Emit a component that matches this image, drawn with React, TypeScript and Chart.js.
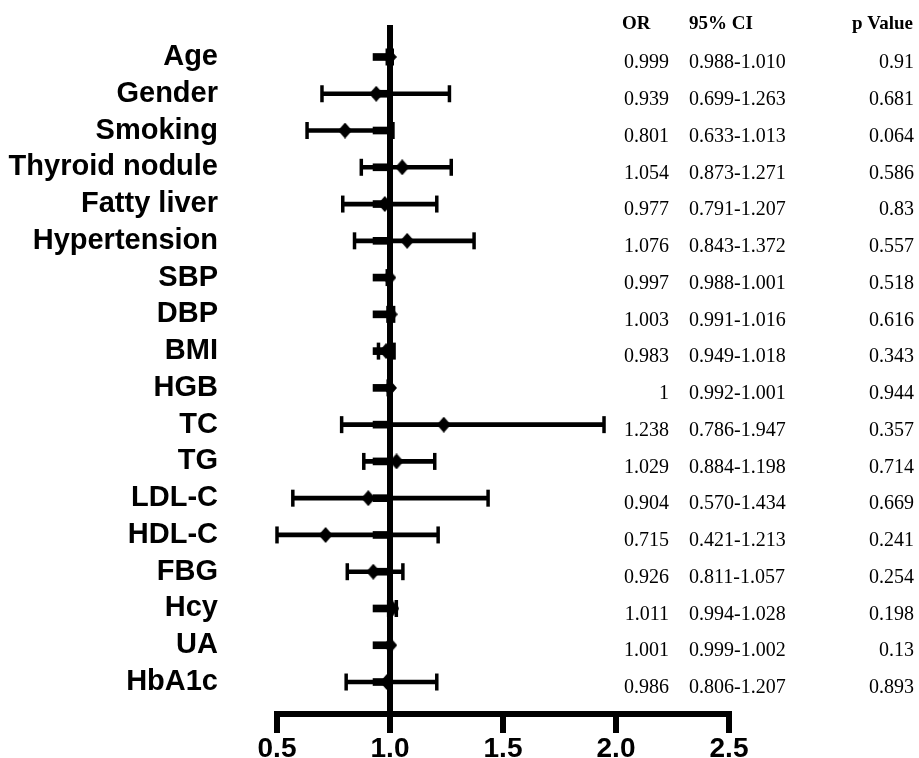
import React, { useEffect, useRef } from 'react';
import { Chart, registerables } from 'chart.js';

Chart.register(...registerables);

const variables = ['Age', 'Gender', 'Smoking', 'Thyroid nodule', 'Fatty liver', 'Hypertension', 'SBP', 'DBP', 'BMI', 'HGB', 'TC', 'TG', 'LDL-C', 'HDL-C', 'FBG', 'Hcy', 'UA', 'HbA1c'];
const orValues = [0.999, 0.939, 0.801, 1.054, 0.977, 1.076, 0.997, 1.003, 0.983, 1, 1.238, 1.029, 0.904, 0.715, 0.926, 1.011, 1.001, 0.986];
const ciLower = [0.988, 0.699, 0.633, 0.873, 0.791, 0.843, 0.988, 0.991, 0.949, 0.992, 0.786, 0.884, 0.570, 0.421, 0.811, 0.994, 0.999, 0.806];
const ciUpper = [1.010, 1.263, 1.013, 1.271, 1.207, 1.372, 1.001, 1.016, 1.018, 1.001, 1.947, 1.198, 1.434, 1.213, 1.057, 1.028, 1.002, 1.207];
const pValues = ['0.91', '0.681', '0.064', '0.586', '0.83', '0.557', '0.518', '0.616', '0.343', '0.944', '0.357', '0.714', '0.669', '0.241', '0.254', '0.198', '0.13', '0.893'];
const tableHeaders = ['OR', '95% CI', 'p Value'];
const xTicks = [0.5, 1.0, 1.5, 2.0, 2.5];
const referenceValue = 1;
const stubStart = 0.925;

const X_MIN = 0.5;
const X_MAX = 2.5;

function makeDiamond(w: number, h: number) {
  const c = document.createElement('canvas');
  c.width = w;
  c.height = h;
  const g = c.getContext('2d')!;
  g.fillStyle = '#000';
  g.beginPath();
  g.moveTo(w / 2, 0);
  g.lineTo(w, h / 2);
  g.lineTo(w / 2, h);
  g.lineTo(0, h / 2);
  g.closePath();
  g.fill();
  return c;
}

const tablePlugin = {
  id: 'orTable',
  afterDraw(chart: any) {
    const ctx = chart.ctx as CanvasRenderingContext2D;
    const y = chart.scales.y;
    ctx.save();
    ctx.fillStyle = '#000';
    ctx.textBaseline = 'middle';
    ctx.font = 'bold 19px "Liberation Serif", "Times New Roman", serif';
    ctx.textAlign = 'left';
    ctx.fillText(tableHeaders[0], 622, 24);
    ctx.fillText(tableHeaders[1], 689, 24);
    ctx.textAlign = 'right';
    ctx.fillText(tableHeaders[2], 913, 24);
    ctx.font = '20px "Liberation Serif", "Times New Roman", serif';
    variables.forEach((_, i) => {
      const py = y.getPixelForValue(i) + 6;
      ctx.textAlign = 'right';
      ctx.fillText(String(orValues[i]), 669, py);
      ctx.textAlign = 'left';
      ctx.fillText(ciLower[i].toFixed(3) + '-' + ciUpper[i].toFixed(3), 689, py);
      ctx.textAlign = 'right';
      ctx.fillText(pValues[i], 914, py);
    });
    ctx.restore();
  },
};

export default function App() {
  const ref = useRef<HTMLCanvasElement>(null);

  useEffect(() => {
    if (!ref.current) return;
    const diamond = makeDiamond(14, 16);
    const n = variables.length;
    const chart = new Chart(ref.current, {
      type: 'scatter',
      data: {
        datasets: [
          {
            type: 'line',
            data: [
              { x: referenceValue, y: -0.87 },
              { x: referenceValue, y: n - 1 + 0.87 },
            ],
            borderColor: '#000',
            borderWidth: 6,
            pointRadius: 0,
            clip: false,
            order: 10,
          } as any,
          {
            type: 'bar',
            indexAxis: 'y',
            data: variables.map((_, i) => ({ x: [ciLower[i], ciUpper[i]], y: i })),
            backgroundColor: '#000',
            grouped: false,
            barThickness: 4,
            maxBarThickness: 4,
            order: 9,
          } as any,
          {
            type: 'bar',
            indexAxis: 'y',
            data: variables.map((_, i) => ({ x: [stubStart, referenceValue], y: i })),
            backgroundColor: '#000',
            grouped: false,
            barThickness: 7,
            maxBarThickness: 7,
            order: 8,
          } as any,
          {
            type: 'scatter',
            data: variables.flatMap((_, i) => [
              { x: Math.max(ciLower[i], X_MIN), y: i },
              { x: Math.min(ciUpper[i], X_MAX), y: i },
            ]),
            pointStyle: 'line',
            rotation: 90,
            radius: 8.5,
            borderWidth: 3.5,
            borderColor: '#000',
            backgroundColor: '#000',
            clip: false,
            order: 7,
          } as any,
          {
            type: 'scatter',
            data: variables.map((_, i) => ({ x: orValues[i], y: i })),
            pointStyle: diamond,
            radius: 8,
            clip: false,
            order: 1,
          } as any,
        ],
      },
      options: {
        responsive: false,
        maintainAspectRatio: false,
        animation: false,
        events: [],
        layout: { padding: { top: 25, right: 190, left: 0, bottom: 0 } },
        plugins: { legend: { display: false }, tooltip: { enabled: false }, title: { display: false } },
        scales: {
          x: {
            type: 'linear',
            position: 'bottom',
            min: X_MIN,
            max: X_MAX,
            offset: false,
            beginAtZero: false,
            afterFit: (s: any) => {
              s.height = 44;
            },
            afterBuildTicks: (s: any) => {
              s.ticks = xTicks.map((v) => ({ value: v }));
            },
            ticks: {
              color: '#000',
              font: { family: '"Liberation Sans", Arial, sans-serif', size: 28, weight: 'bold', lineHeight: 1 },
              padding: 2,
              callback: (v: any) => Number(v).toFixed(1),
            },
            grid: {
              offset: false,
              drawOnChartArea: false,
              drawTicks: true,
              tickLength: 19,
              lineWidth: 6,
              color: '#000',
            },
            border: { display: true, width: 6, color: '#000' },
          },
          y: {
            type: 'linear',
            reverse: true,
            offset: false,
            min: -0.87,
            max: n - 1 + 0.87,
            afterFit: (s: any) => {
              s.width = 277;
            },
            afterBuildTicks: (s: any) => {
              s.ticks = variables.map((_, i) => ({ value: i }));
            },
            ticks: {
              color: '#000',
              autoSkip: false,
              padding: 0,
              font: { family: '"Liberation Sans", Arial, sans-serif', size: 29, weight: 'bold' },
              callback: (v: any) => variables[Math.round(Number(v))] ?? '',
            },
            grid: { display: false, drawTicks: true, tickLength: 59, offset: false },
            border: { display: false },
          },
        },
      } as any,
      plugins: [tablePlugin],
    });
    return () => chart.destroy();
  }, []);

  return (
    <div style={{ position: 'fixed', left: 0, top: 0, width: 919, height: 758, background: '#fff' }}>
      <canvas ref={ref} width={919} height={758} style={{ display: 'block', width: 919, height: 758 }} />
    </div>
  );
}
